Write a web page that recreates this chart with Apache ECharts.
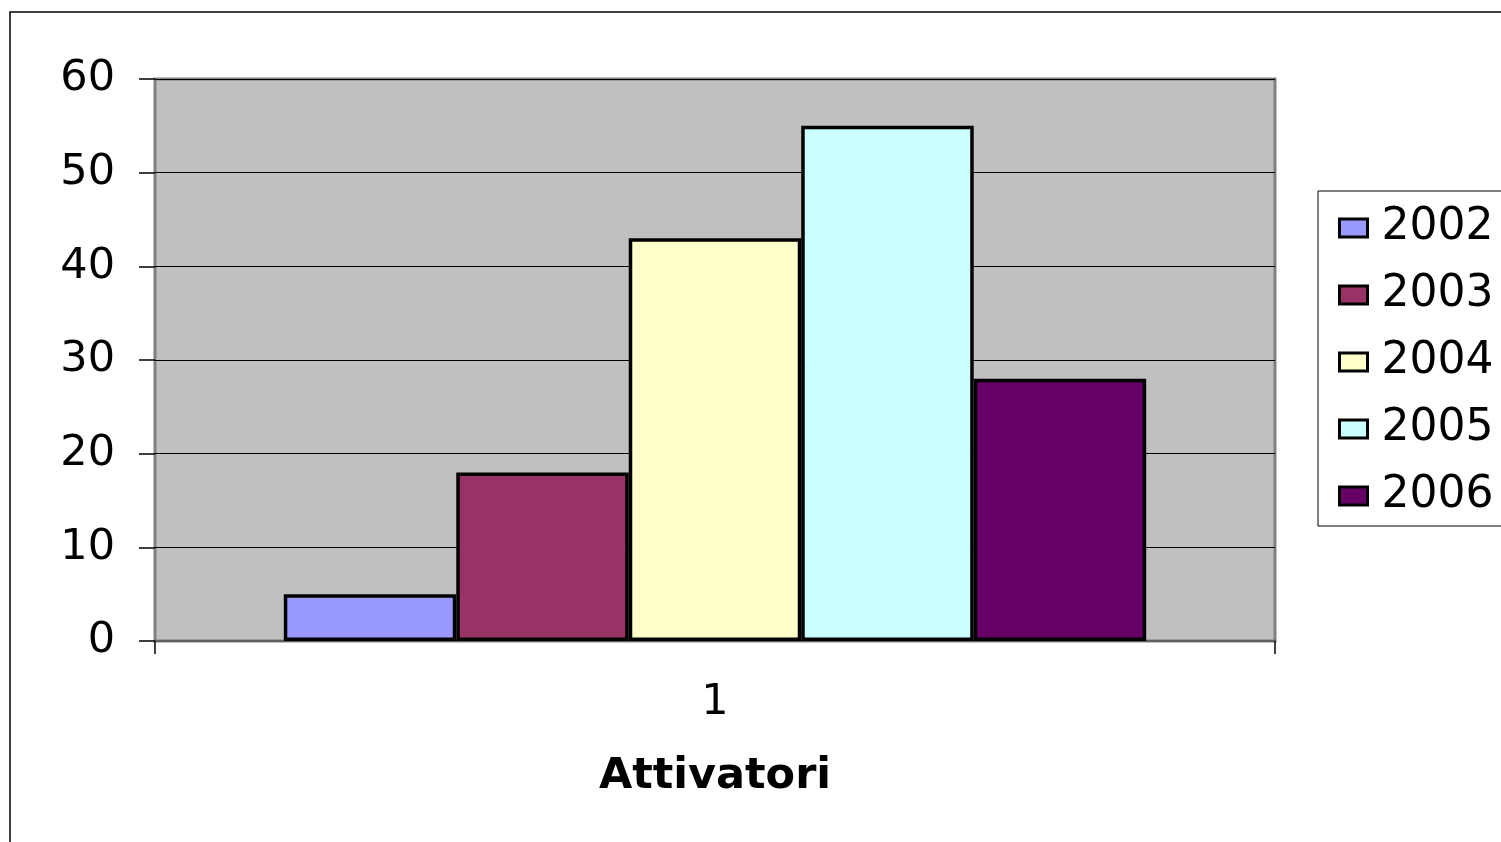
<!DOCTYPE html>
<html>
<head>
<meta charset="utf-8">
<style>html,body{margin:0;padding:0;background:#fff;}#c{width:1501px;height:842px;}</style>
<script src="https://cdn.jsdelivr.net/npm/echarts@6/dist/echarts.min.js"></script>
</head>
<body>
<div id="c"></div>
<script>
const categories = ['1'];
const seriesNames = ['2002', '2003', '2004', '2005', '2006'];
const seriesValues = [[5], [18], [43], [55], [28]];
const seriesColors = ['#9999FF', '#993366', '#FFFFCC', '#CCFFFF', '#660066'];
const yTicks = [0, 10, 20, 30, 40, 50, 60];
const xTitle = 'Attivatori';

const FONT = 'DejaVu Sans';
const chart = echarts.init(document.getElementById('c'));
chart.setOption({
  animation: false,
  backgroundColor: '#fff',
  graphic: [{
    type: 'rect', z: -10, silent: true,
    shape: { x: 10, y: 12, width: 1700, height: 1000 },
    style: { fill: 'none', stroke: '#000', lineWidth: 1.5 }
  }],
  grid: {
    left: 155, right: 226, top: 79, bottom: 201,
    show: true, backgroundColor: '#C0C0C0', borderColor: '#808080', borderWidth: 3
  },
  legend: {
    orient: 'vertical', left: 1318, top: 191,
    padding: [15, 40, 8, 20],
    itemGap: 23, itemWidth: 28, itemHeight: 18,
    backgroundColor: '#fff', borderColor: '#000', borderWidth: 1, borderRadius: 0,
    icon: 'rect',
    itemStyle: { borderColor: '#000', borderWidth: 3 },
    textStyle: { fontFamily: FONT, fontSize: 44, color: '#000', lineHeight: 44, padding: [0, 0, 0, 9] },
    data: seriesNames
  },
  xAxis: {
    type: 'category', data: categories,
    name: xTitle, nameLocation: 'middle', nameGap: 114,
    nameTextStyle: { fontFamily: FONT, fontSize: 43, fontWeight: 'bold', color: '#000' },
    axisLine: { show: true, lineStyle: { color: '#606060', width: 2 } },
    axisTick: { show: true, length: 13, lineStyle: { color: '#000', width: 1.5 } },
    axisLabel: { fontFamily: FONT, fontSize: 43, color: '#000', margin: 40 }
  },
  yAxis: {
    type: 'value', min: yTicks[0], max: yTicks[yTicks.length - 1], interval: 10,
    axisLine: { show: false },
    axisTick: { show: true, length: 16, lineStyle: { color: '#000', width: 1.5 } },
    axisLabel: { fontFamily: FONT, fontSize: 43, color: '#000', margin: 40 },
    splitLine: { show: true, lineStyle: { color: '#000', width: 1 } }
  },
  series: seriesNames.map((n, i) => ({
    name: n, type: 'bar', data: seriesValues[i],
    barGap: '0%', barCategoryGap: '23%',
    itemStyle: { color: seriesColors[i], borderColor: '#000', borderWidth: 3.5 }
  }))
});
</script>
</body>
</html>
